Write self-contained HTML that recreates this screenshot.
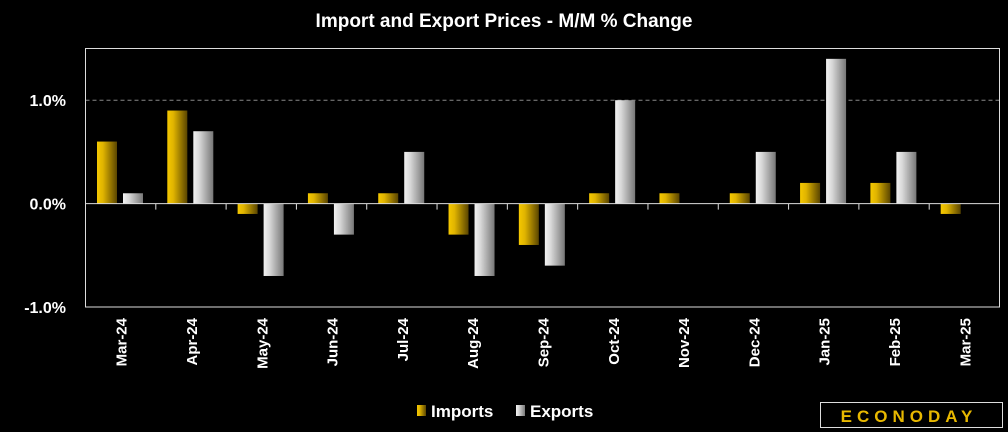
<!DOCTYPE html>
<html><head><meta charset="utf-8"><style>
body{margin:0;background:#000;width:1008px;height:432px;overflow:hidden;font-family:"Liberation Sans",sans-serif}
</style></head><body>
<svg width="1008" height="432" style="display:block">
<defs>
<linearGradient id="gi" x1="0" x2="1"><stop offset="0" stop-color="#f5c800"/><stop offset="0.3" stop-color="#e0b400"/><stop offset="1" stop-color="#5a4500"/></linearGradient>
<linearGradient id="ge" x1="0" x2="1"><stop offset="0" stop-color="#f2f2f2"/><stop offset="0.3" stop-color="#d8d8d8"/><stop offset="1" stop-color="#777"/></linearGradient>
</defs>
<text x="504" y="27" text-anchor="middle" fill="#fff" font-size="19" font-weight="bold">Import and Export Prices - M/M % Change</text>
<g id="plot"></g>
<g>
<rect x="417" y="405" width="9" height="11" fill="url(#gi)"/>
<text x="431" y="417" fill="#fff" font-size="17" font-weight="bold">Imports</text>
<rect x="516" y="405" width="9" height="11" fill="url(#ge)"/>
<text x="530" y="417" fill="#fff" font-size="17" font-weight="bold">Exports</text>
</g>
<g>
<rect x="820.5" y="402.5" width="182" height="25" fill="#000" stroke="#ddd" stroke-width="1"/>
<text x="909" y="422" text-anchor="middle" fill="#e8b800" font-size="17" font-weight="bold" letter-spacing="5">ECONODAY</text>
</g>
</svg>
<script>
const categories=["Mar-24","Apr-24","May-24","Jun-24","Jul-24","Aug-24","Sep-24","Oct-24","Nov-24","Dec-24","Jan-25","Feb-25","Mar-25"];
const imports=[0.6,0.9,-0.1,0.1,0.1,-0.3,-0.4,0.1,0.1,0.1,0.2,0.2,-0.1];
const exports=[0.1,0.7,-0.7,-0.3,0.5,-0.7,-0.6,1.0,0.0,0.5,1.4,0.5,0.0];
const yTicks=[-1.0,0.0,1.0];
const yTickLabels=["-1.0%","0.0%","1.0%"];
const NS="http://www.w3.org/2000/svg";
const L=85.5,R=999.5,T=48.5,B=307;
const yMin=-1.0,yMax=1.5;
const y=v=>B-(v-yMin)/(yMax-yMin)*(B-T);
const cw=(R-L)/categories.length;
const x=i=>L+i*cw;
const g=document.getElementById('plot');
function mk(tag,attrs){const e=document.createElementNS(NS,tag);for(const k in attrs)e.setAttribute(k,attrs[k]);g.appendChild(e);return e;}
yTicks.forEach((t,i)=>{
  if(t===1.0){const d=mk('line',{x1:L,x2:R,y1:y(t),y2:y(t),stroke:'#888','stroke-dasharray':'4,3'});
  
  }
  const tx=mk('text',{x:66,y:y(t)+6,'text-anchor':'end',fill:'#fff','font-size':'16','font-weight':'bold'});
  tx.textContent=yTickLabels[i];
  
  
});
function bar(v,i,off,fill,name){
  const y0=y(0),y1=y(v);
  const r=mk('rect',{x:x(i)+off,y:Math.min(y0,y1),width:20,height:Math.abs(y1-y0),fill:fill});
  
  
}
categories.forEach((c,i)=>{
  bar(imports[i],i,11.5,'url(#gi)','bar-imports');
  bar(exports[i],i,37.5,'url(#ge)','bar-exports');
  const cx=x(i)+cw/2;
  const tx=mk('text',{x:0,y:0,transform:`translate(${cx+6},318) rotate(-90)`,'text-anchor':'end',fill:'#fff','font-size':'15','font-weight':'bold'});
  tx.textContent=c;
  
  
  if(i>0){const tk=mk('line',{x1:x(i),x2:x(i),y1:y(0),y2:y(0)+6,stroke:'#ddd'});
  
  }
});
const z=mk('line',{x1:L,x2:R,y1:y(0),y2:y(0),stroke:'#ddd'});


const fr=mk('rect',{x:L,y:T,width:R-L,height:B-T,fill:'none',stroke:'#ddd'});


</script>
</body></html>
